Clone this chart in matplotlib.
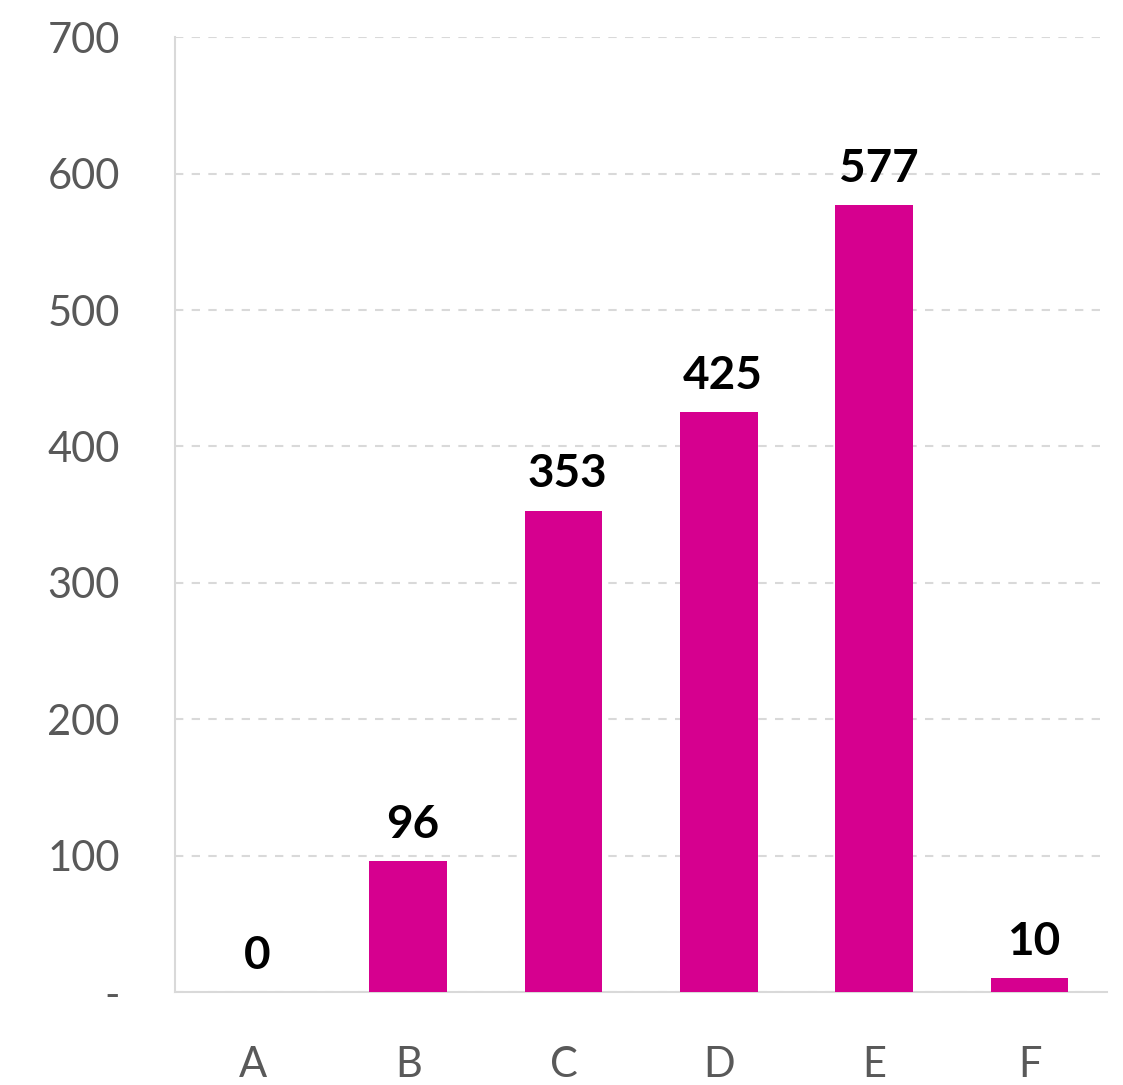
import matplotlib
matplotlib.use("Agg")
import matplotlib.pyplot as plt
import matplotlib.ticker as tkr

categories = ["A", "B", "C", "D", "E", "F"]
values = [0, 96, 353, 425, 577, 10]
yticks = [0, 100, 200, 300, 400, 500, 600, 700]

plt.rcParams['font.family'] = ['Lato', 'DejaVu Sans']

fig = plt.figure(figsize=(11.23, 10.85), dpi=100)
ax = fig.add_axes([0.156, 0.0857, 0.830, 0.880])

x = list(range(len(categories)))
ax.bar(x, values, width=0.5, color="#D6008F", zorder=3)

# value labels above each bar
for xi, v in zip(x, values):
    ax.annotate(str(v), (xi, v), xytext=(3, 11), textcoords="offset points",
                ha="center", va="bottom", fontsize=33, fontweight="bold",
                color="black", zorder=4)

ax.set_xlim(-0.5, len(categories) - 0.5)
ax.set_ylim(0, 700)
ax.set_yticks(yticks)
ax.yaxis.set_major_formatter(tkr.FuncFormatter(lambda v, pos: "-" if v == 0 else "%d" % v))
ax.set_xticks(x)
ax.set_xticklabels(categories)

ax.tick_params(axis="y", length=0, pad=40, labelsize=30, labelcolor="#595959")
ax.tick_params(axis="x", length=0, pad=39, labelsize=30, labelcolor="#595959")

ax.grid(axis="y", color="#D9D9D9", linestyle=(0, (4, 4)), linewidth=1.5, zorder=0)
for s in ["top", "right"]:
    ax.spines[s].set_visible(False)
for s in ["left", "bottom"]:
    ax.spines[s].set_color("#D9D9D9")
    ax.spines[s].set_linewidth(1.5)

plt.savefig("out.png", dpi=100)
